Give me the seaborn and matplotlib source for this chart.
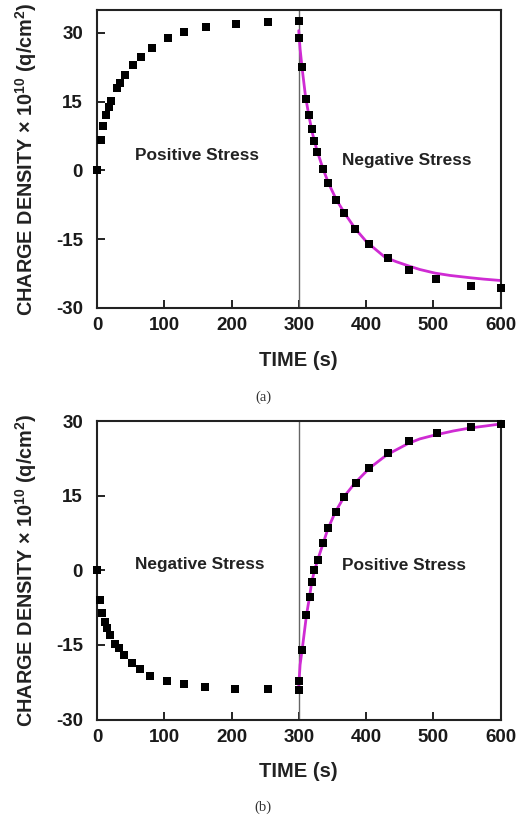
import matplotlib
matplotlib.use("Agg")
import matplotlib.pyplot as plt
import seaborn as sns

# ---- data ----
# panel (a)
pos_t_a = [0, 5.5, 9, 13.4, 18, 21, 30, 33.6, 42, 53.5, 65.5, 82, 106, 130, 162, 206, 254, 300]
pos_q_a = [0, 6.7, 9.6, 12.0, 13.9, 15.2, 18.0, 19.0, 20.8, 23.1, 24.8, 26.8, 28.8, 30.2, 31.2, 32.0, 32.3, 32.6]
neg_t_a = [301, 305, 311, 315, 319, 323, 327.7, 335.7, 343.6, 355.6, 367.5, 384, 404, 432.7, 463.5, 503.7, 556, 600]
neg_q_a = [28.8, 22.6, 15.6, 12.0, 9.1, 6.5, 4.1, 0.4, -2.7, -6.4, -9.2, -12.7, -16.0, -19.1, -21.7, -23.7, -25.2, -25.7]
fit_t_a = [300, 302, 305, 310, 315, 320, 327, 336, 344, 356, 369, 384, 401, 428, 445, 463, 480, 503, 525, 555, 575, 600]
fit_q_a = [30.5, 26.5, 22.3, 16.2, 12.0, 8.3, 4.4, 0.4, -2.7, -6.4, -9.5, -12.7, -15.6, -18.9, -19.9, -20.8, -21.6, -22.4, -22.9, -23.4, -23.7, -24.0]

# panel (b)
neg_t_b = [0, 4.5, 8, 12, 15, 19.8, 27, 32, 39.8, 52.6, 64.5, 79.4, 104.8, 129, 161, 205, 254, 300]
neg_q_b = [0, -5.9, -8.6, -10.5, -11.7, -13.0, -14.9, -15.7, -17.0, -18.7, -19.9, -21.2, -22.2, -22.9, -23.5, -23.8, -23.9, -24.1]
pos_t_b = [300.5, 305.5, 311.5, 316, 319, 323, 328, 336, 343.5, 355.5, 368, 385, 405, 432.7, 463.6, 505, 556.7, 600]
pos_q_b = [-22.2, -16.0, -8.9, -5.4, -2.4, 0, 2.1, 5.5, 8.5, 11.8, 14.7, 17.6, 20.6, 23.6, 25.9, 27.6, 28.8, 29.4]
fit_t_b = [300, 302, 305.5, 311.5, 316, 319, 323, 328, 336, 343, 354, 368, 384, 405, 431, 463, 480, 503, 530, 555, 578, 600]
fit_q_b = [-23.3, -19.0, -15.5, -9.0, -5.4, -2.6, -0.2, 2.0, 5.3, 8.2, 11.6, 14.9, 17.6, 20.5, 23.2, 25.5, 26.4, 27.2, 28.0, 28.6, 29.0, 29.4]

x_ticks = [0, 100, 200, 300, 400, 500, 600]
y_ticks = [-30, -15, 0, 15, 30]

sns.set_theme(style="ticks")
plt.rcParams["font.family"] = ["Liberation Sans", "DejaVu Sans"]
plt.rcParams["font.weight"] = "bold"
plt.rcParams["axes.unicode_minus"] = False
plt.rcParams["mathtext.fontset"] = "custom"
plt.rcParams["mathtext.rm"] = "Liberation Sans:bold"
plt.rcParams["mathtext.it"] = "Liberation Sans:bold"
plt.rcParams["mathtext.bf"] = "Liberation Sans:bold"

W, H = 527, 819
fig = plt.figure(figsize=(W / 100, H / 100), dpi=100)
fig.patch.set_facecolor("white")

ax_a = fig.add_axes([97 / W, 1 - 308 / H, 403.5 / W, 298 / H])
ax_b = fig.add_axes([97 / W, 1 - 719.5 / H, 403.5 / W, 298.5 / H])

MAG = "#cf2bd3"
ylabel = "CHARGE DENSITY × 10$^{10}$ (q/cm$^{2}$)"


def panel(ax, t1, q1, t2, q2, ft, fq, ylim, txt1, pos1, txt2, pos2):
    ax.axvline(300, color="#666666", lw=1.0, zorder=1)
    sns.lineplot(x=ft, y=fq, ax=ax, color=MAG, lw=2.0, sort=False,
                 estimator=None, zorder=2)
    sns.scatterplot(x=t1, y=q1, ax=ax, marker="s", s=28, color="black",
                    linewidth=0, zorder=3, clip_on=False)
    sns.scatterplot(x=t2, y=q2, ax=ax, marker="s", s=28, color="black",
                    linewidth=0, zorder=3, clip_on=False)
    ax.set_xlim(0, 600)
    ax.set_ylim(*ylim)
    ax.set_xticks(x_ticks)
    ax.set_yticks(y_ticks)
    ax.tick_params(direction="in", length=6, width=1.4, color="#222222",
                   labelsize=13.5, labelcolor="#1a1a1a")
    ax.tick_params(axis="x", pad=6.5)
    ax.tick_params(axis="y", pad=10)
    for lab in ax.get_xticklabels() + ax.get_yticklabels():
        lab.set_fontweight("bold")
    for s in ax.spines.values():
        s.set_visible(True)
        s.set_linewidth(1.5)
        s.set_color("#222222")
    ax.set_xlabel("")
    ax.set_ylabel("")
    ax.text(pos1[0], pos1[1], txt1, ha="center", va="baseline",
            fontsize=12.4, fontweight="bold", color="#222222")
    ax.text(pos2[0], pos2[1], txt2, ha="center", va="baseline",
            fontsize=12.4, fontweight="bold", color="#222222")


panel(ax_a, pos_t_a, pos_q_a, neg_t_a, neg_q_a, fit_t_a, fit_q_a, (-30, 35),
      "Positive Stress", (148, 2.3), "Negative Stress", (460, 1.3))
panel(ax_b, neg_t_b, neg_q_b, pos_t_b, pos_q_b, fit_t_b, fit_q_b, (-30, 30),
      "Negative Stress", (153, 0.2), "Positive Stress", (456, 0.0))

cx = 298.8 / W
for yc_lab, yc_time, yc_tag, tag in [(159, 360, 397.5, "(a)"), (570, 771.5, 807.5, "(b)")]:
    fig.text(26 / W, 1 - yc_lab / H, ylabel, rotation=90, ha="center",
             va="center", fontsize=14.3, fontweight="bold", color="#222222")
    fig.text(cx, 1 - yc_time / H, "TIME (s)", ha="center", va="center",
             fontsize=14.5, fontweight="bold", color="#222222")
    fig.text(263 / W, 1 - yc_tag / H, tag, ha="center", va="center",
             fontsize=10.5, fontweight="normal", color="#333333",
             family=["Liberation Serif", "DejaVu Serif"])

fig.savefig("out.png", dpi=100, facecolor="white")
